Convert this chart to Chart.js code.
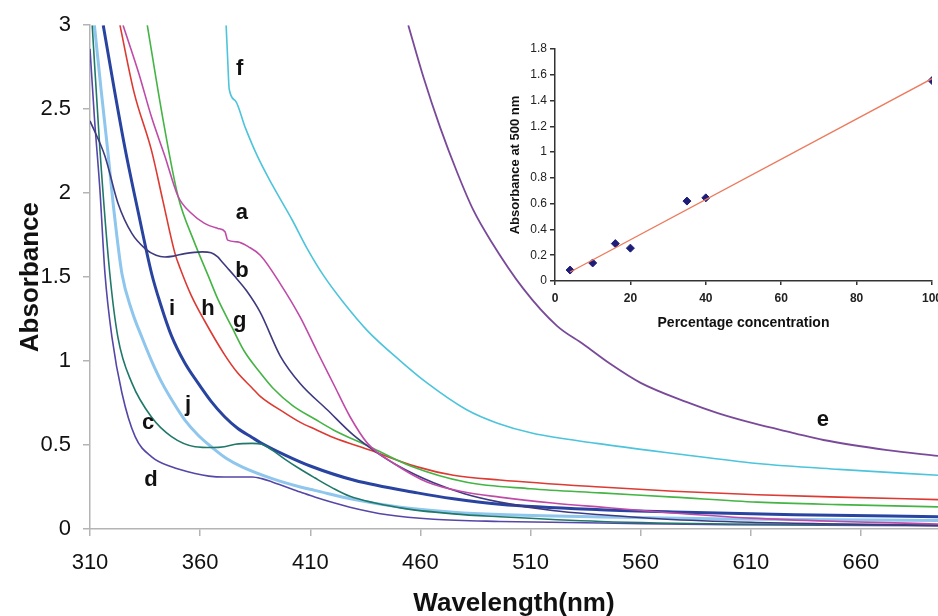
<!DOCTYPE html>
<html>
<head>
<meta charset="utf-8">
<script src="https://cdn.jsdelivr.net/npm/chart.js@4.4.1/dist/chart.umd.min.js"></script>
<style>
    html, body { margin: 0; padding: 0; background: #fff; overflow: hidden; }
    #wrap { position: relative; width: 938px; height: 616px; overflow: hidden; }
    #mainChart { position: absolute; left: 0; top: 0; }
    #insetChart { position: absolute; left: 470px; top: 20px; }
</style>
</head>
<body>
<div id="wrap">
    <canvas id="mainChart" width="938" height="619"></canvas>
    <canvas id="insetChart" width="480" height="330"></canvas>
</div>
<script>
// spectra, [wavelength nm, absorbance]
const curveA = [[325,3.0],[332,2.72],[338,2.45],[344,2.22],[350,1.98],[356,1.88],[362,1.82],[368,1.79],[371.3,1.77],[372.5,1.72],[377,1.71],[382,1.68],[387.3,1.63],[396.4,1.46],[405.5,1.26],[413,1.06],[420.5,0.865],[428,0.67],[436,0.51],[448,0.39],[463,0.28],[480,0.22],[496,0.19],[520,0.155],[542,0.13],[570,0.1],[610,0.065],[650,0.045],[695,0.03]];
const curveB = [[310,2.43],[316.8,2.22],[322.7,1.94],[329,1.76],[335,1.67],[340,1.63],[344,1.62],[348,1.625],[353,1.64],[361,1.65],[365,1.645],[368,1.62],[370,1.59],[372.7,1.55],[376,1.5],[381,1.42],[387.3,1.29],[396.4,1.03],[405.5,0.865],[417.7,0.71],[429.5,0.56],[438.6,0.47],[450,0.375],[466,0.275],[480,0.21],[496,0.16],[520,0.11],[542,0.085],[570,0.06],[610,0.04],[650,0.03],[695,0.02]];
const curveC = [[311,3.0],[314.5,2.26],[319,1.52],[322.7,1.14],[329,0.87],[338,0.665],[347,0.55],[357.7,0.49],[365.5,0.485],[371,0.49],[376,0.505],[383.6,0.51],[388,0.505],[392.7,0.47],[398.6,0.415],[405,0.36],[412,0.305],[420,0.245],[428,0.195],[451,0.126],[475,0.09],[496,0.073],[542,0.045],[600,0.03],[695,0.025]];
const curveD = [[310,2.86],[312,2.45],[314.5,2.02],[316.8,1.52],[320,1.14],[324.5,0.81],[330.5,0.55],[338,0.43],[347,0.37],[357.7,0.33],[364,0.315],[371,0.31],[383.6,0.31],[388,0.3],[392.7,0.28],[405.5,0.22],[412,0.19],[428,0.13],[445,0.085],[466,0.058],[496,0.045],[542,0.036],[600,0.025],[695,0.02]];
const curveE = [[454.5,3.0],[461.4,2.69],[469,2.39],[476.8,2.12],[484,1.9],[491.8,1.72],[506.8,1.43],[522,1.21],[534,1.1],[546,0.985],[560,0.87],[581,0.755],[595,0.69],[611,0.63],[630,0.57],[643,0.53],[672,0.47],[695,0.435]];
const curveF = [[371.8,3.0],[372.5,2.8],[373.2,2.62],[376,2.55],[380.5,2.39],[386,2.22],[392.7,2.05],[401.8,1.84],[408.6,1.67],[416,1.51],[425,1.35],[436,1.18],[451,1.0],[463,0.87],[481,0.71],[495,0.63],[511,0.57],[540,0.51],[575,0.45],[613,0.39],[650,0.355],[695,0.32]];
const curveG = [[336,3.0],[343,2.45],[350,1.98],[357,1.72],[363.6,1.51],[368,1.37],[374.5,1.2],[380,1.06],[387.3,0.93],[393,0.84],[402,0.735],[412,0.655],[420.5,0.59],[437,0.49],[455.5,0.375],[481,0.278],[510,0.24],[541.8,0.215],[575,0.19],[613,0.16],[650,0.145],[695,0.132]];
const curveH = [[323.6,3.0],[330,2.6],[338,2.25],[343,1.96],[348.6,1.64],[351,1.55],[356,1.39],[362,1.24],[371,1.04],[377,0.93],[383.6,0.84],[387.3,0.79],[398.6,0.69],[405.5,0.635],[412,0.595],[420.5,0.545],[437,0.47],[458.6,0.37],[475,0.32],[496,0.292],[541.8,0.25],[575,0.225],[613,0.204],[650,0.19],[695,0.175]];
const curveI = [[316,3.0],[321,2.62],[326,2.26],[332,1.88],[338,1.52],[342,1.34],[347,1.15],[353,0.99],[359,0.87],[365,0.76],[371,0.67],[377,0.6],[383.6,0.545],[387.3,0.515],[398.6,0.44],[410,0.375],[430,0.29],[458.6,0.215],[475,0.18],[496,0.148],[541.8,0.115],[580,0.1],[630,0.085],[695,0.073]];
const curveJ = [[312,3.0],[315,2.62],[318,2.26],[321,1.88],[324.5,1.52],[329,1.3],[333.6,1.14],[338,1.0],[342.7,0.87],[348,0.75],[353,0.65],[359,0.56],[365.5,0.485],[372,0.42],[379,0.37],[392.7,0.3],[405.5,0.25],[412,0.23],[430,0.175],[451,0.13],[475,0.1],[496,0.086],[541.8,0.072],[600,0.06],[695,0.05]];

const xTicks = [310, 360, 410, 460, 510, 560, 610, 660];

// curve letters, [letter, wavelength, absorbance]
const curveLabels = [["a",379,1.88],["b",379,1.535],["c",336.4,0.63],["d",337.7,0.29],["e",642.7,0.65],["f",378,2.74],["g",378,1.24],["h",363.6,1.31],["i",347.3,1.31],["j",354.5,0.74]];

// inset data
const concPct = [4, 10, 16, 20, 35, 40, 100];
const abs500 = [0.085, 0.14, 0.29, 0.255, 0.62, 0.645, 1.555];
const fitLine = [[4, 0.07], [100, 1.57]];

const mainFont = "'Liberation Sans', Arial, sans-serif";
const plainNum = v => String(+v.toFixed(2));

function lineSet(data, color, width) {
    return {
        data: data,
        borderColor: color,
        borderWidth: width,
        pointRadius: 0,
        fill: false,
        cubicInterpolationMode: "monotone"
    };
}

const letterPlugin = {
    id: "letters",
    afterDatasetsDraw(chart) {
        const ctx = chart.ctx;
        const xs = chart.scales.x, ys = chart.scales.y;
        ctx.save();
        ctx.font = "bold 22px " + mainFont;
        ctx.fillStyle = "#111";
        ctx.textAlign = "center";
        ctx.textBaseline = "middle";
        curveLabels.forEach(l => {
            ctx.fillText(l[0], xs.getPixelForValue(l[1]), ys.getPixelForValue(l[2]));
        });
        ctx.restore();
    }
};

new Chart(document.getElementById("mainChart"), {
    type: "line",
    data: {
        datasets: [
            lineSet(curveE, "#7a4a9a", 1.8),
            lineSet(curveF, "#4cc4dc", 1.6),
            lineSet(curveA, "#c04aa8", 1.6),
            lineSet(curveB, "#3e3a80", 1.6),
            lineSet(curveG, "#44b444", 1.6),
            lineSet(curveH, "#dc3a32", 1.6),
            lineSet(curveC, "#20786a", 1.6),
            lineSet(curveD, "#5447a8", 1.6),
            lineSet(curveJ, "#8ec6ee", 3),
            lineSet(curveI, "#2844a0", 3)
        ]
    },
    options: {
        responsive: false,
        animation: false,
        layout: { padding: { top: 23, right: 0, left: 0, bottom: 0 } },
        plugins: { legend: { display: false }, tooltip: { enabled: false } },
        scales: {
            x: {
                type: "linear",
                min: 310,
                max: 695,
                afterBuildTicks: scale => { scale.ticks = xTicks.map(v => ({ value: v })); },
                afterFit: scale => { scale.height = 90; },
                grid: { drawOnChartArea: false, drawTicks: true, tickLength: 7, color: "#b4b4b4", lineWidth: 1.5 },
                border: { color: "#b4b4b4", width: 1.5 },
                ticks: { color: "#111", font: { family: mainFont, size: 22 }, padding: 14, maxRotation: 0 },
                title: { display: true, text: "Wavelength(nm)", color: "#111", font: { family: mainFont, size: 26, weight: "bold" }, padding: { top: 0, bottom: 0 } }
            },
            y: {
                min: 0,
                max: 3,
                afterFit: scale => { scale.width = 90; },
                grid: { drawOnChartArea: false, drawTicks: true, tickLength: 7, color: "#b4b4b4", lineWidth: 1.5 },
                border: { color: "#b4b4b4", width: 1.5 },
                ticks: { stepSize: 0.5, color: "#111", font: { family: mainFont, size: 22 }, padding: 12, callback: plainNum },
                title: { display: true, text: "Absorbance", color: "#111", font: { family: mainFont, size: 26, weight: "bold" }, padding: { top: 15, bottom: 0 } }
            }
        }
    },
    plugins: [letterPlugin]
});

// calibration inset
new Chart(document.getElementById("insetChart"), {
    type: "scatter",
    data: {
        datasets: [
            {
                type: "line",
                data: fitLine,
                borderColor: "#ec7a5c",
                borderWidth: 1.3,
                pointRadius: 0,
                fill: false
            },
            {
                data: concPct.map((c, i) => ({ x: c, y: abs500[i] })),
                pointStyle: "rectRot",
                pointRadius: 4,
                backgroundColor: "#1e1e78",
                borderColor: "#1e1e78",
                borderWidth: 1
            }
        ]
    },
    options: {
        responsive: false,
        animation: false,
        layout: { padding: { top: 29, right: 18, left: 0, bottom: 0 } },
        plugins: { legend: { display: false }, tooltip: { enabled: false } },
        scales: {
            x: {
                type: "linear",
                min: 0,
                max: 100,
                afterFit: scale => { scale.height = 69; },
                grid: { drawOnChartArea: false, drawTicks: true, tickLength: 4, color: "#333", lineWidth: 1.5 },
                border: { color: "#333", width: 1.5 },
                ticks: { stepSize: 20, color: "#222", font: { family: mainFont, size: 12, weight: "bold" }, padding: 6, maxRotation: 0 },
                title: { display: true, text: "Percentage concentration", color: "#111", font: { family: mainFont, size: 14, weight: "bold" }, padding: { top: 0, bottom: 18 } }
            },
            y: {
                min: 0,
                max: 1.8,
                afterFit: scale => { scale.width = 85; },
                grid: { drawOnChartArea: false, drawTicks: true, tickLength: 5, color: "#333", lineWidth: 1.5 },
                border: { color: "#333", width: 1.5 },
                ticks: { stepSize: 0.2, color: "#222", font: { family: mainFont, size: 12 }, padding: 3, callback: plainNum },
                title: { display: true, text: "Absorbance at 500 nm", color: "#111", font: { family: mainFont, size: 13, weight: "bold" }, padding: { top: 38, bottom: 0 } }
            }
        }
    }
});
</script>
</body>
</html>
